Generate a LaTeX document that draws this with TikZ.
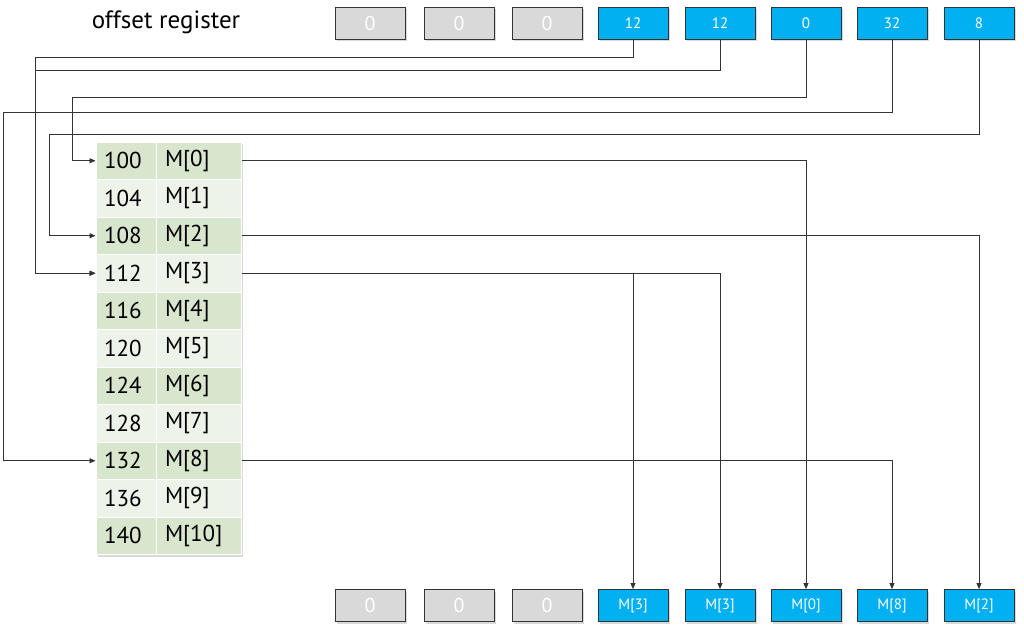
\documentclass[tikz,border=0pt]{standalone}
\usepackage{fontspec}
\setmainfont{PT Sans}
\usetikzlibrary{arrows.meta,shadows}
\definecolor{regblue}{HTML}{00B0F0}
\definecolor{reggray}{HTML}{D9D9D9}
\definecolor{rowdark}{HTML}{D8E6CD}
\definecolor{rowlight}{HTML}{EDF3E9}

\begin{document}
\begin{tikzpicture}[x=1pt, y=-1pt, font=\fontsize{23}{27}\selectfont]
    \tikzset{reg box/.style={draw=black!80, line width=0.8pt, minimum width=70pt, minimum height=32pt, inner sep=0pt, text=white, drop shadow={opacity=0.3, shadow xshift=2pt, shadow yshift=-2pt}},
        blue box/.style={reg box, fill=regblue, font=\fontsize{15}{17}\selectfont},
        gray box/.style={reg box, fill=reggray, font=\fontsize{20}{23}\selectfont},
        cell/.style={draw=white, line width=1pt, minimum height=37.5pt, inner ysep=0pt, align=left},
        wire/.style={draw=black!80, line width=0.8pt},
        arrow wire/.style={wire, -{Triangle[length=6pt,width=5pt]}}}
    \useasboundingbox (0,0) rectangle (1024,638);
    
    % Title
    \node[font=\fontsize{25}{29}\selectfont] (title) at (166,22) {offset register};
    
    % Offset register (top)
    \node[gray box] (off1) at (370,23) {0};
    \node[gray box] (off2) at (459,23) {0};
    \node[gray box] (off3) at (547,23) {0};
    \node[blue box] (off4) at (633,23) {12};
    \node[blue box] (off5) at (720,23) {12};
    \node[blue box] (off6) at (806,23) {0};
    \node[blue box] (off7) at (892,23) {32};
    \node[blue box] (off8) at (979,23) {8};
    
    % Memory table
    \fill[white, drop shadow={opacity=0.3, shadow xshift=2pt, shadow yshift=-2pt}] (96,142) rectangle (241,554.5);
    \foreach \i in {0,...,10}{
        \ifodd\i \def\rowcol{rowlight}\else\def\rowcol{rowdark}\fi
        \pgfmathtruncatemacro{\addr}{100+4*\i}
        \node[cell, fill=\rowcol, text width=44pt, inner xsep=8pt] (a\i) at (126,160.75+37.5*\i) {\addr};
        \node[cell, fill=\rowcol, text width=67pt, inner xsep=9pt] (m\i) at (198.5,160.75+37.5*\i) {M[\i]};
    }
    
    % Result register (bottom)
    \node[gray box] (res1) at (370,605.5) {0};
    \node[gray box] (res2) at (459,605.5) {0};
    \node[gray box] (res3) at (547,605.5) {0};
    \node[blue box] (res4) at (633,605.5) {M[3]};
    \node[blue box] (res5) at (720,605.5) {M[3]};
    \node[blue box] (res6) at (806,605.5) {M[0]};
    \node[blue box] (res7) at (892,605.5) {M[8]};
    \node[blue box] (res8) at (979,605.5) {M[2]};
    
    % Bends of the offset wires
    \coordinate (k4) at (35,57);
    \coordinate (k5) at (35,70);
    \coordinate (k6) at (72,97);
    \coordinate (k7) at (3,112);
    \coordinate (k8) at (49,134);
    
    % Offsets into the table
    \draw[arrow wire] (off4.south) |- (k4) |- (a3.west);
    \draw[arrow wire] (off5.south) |- (k5) |- (a3.west);
    \draw[arrow wire] (off6.south) |- (k6) |- (a0.west);
    \draw[arrow wire] (off7.south) |- (k7) |- (a8.west);
    \draw[arrow wire] (off8.south) |- (k8) |- (a2.west);
    
    % Gathered values
    \draw[arrow wire] (m3.east) -| (res4.north);
    \draw[arrow wire] (m3.east) -| (res5.north);
    \draw[arrow wire] (m0.east) -| (res6.north);
    \draw[arrow wire] (m8.east) -| (res7.north);
    \draw[arrow wire] (m2.east) -| (res8.north);
    
\end{tikzpicture}
\end{document}
